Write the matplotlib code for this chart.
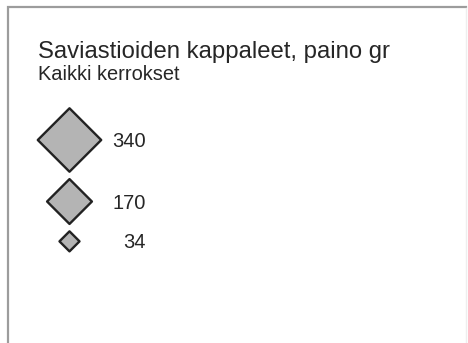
import numpy as np
import matplotlib
matplotlib.use("Agg")
import matplotlib.pyplot as plt

plt.rcParams['font.family'] = ['Liberation Sans', 'DejaVu Sans']

# Legend data: sherd weight classes (grams)
title = "Saviastioiden kappaleet, paino gr"
subtitle = "Kaikki kerrokset"
weights = [340, 170, 34]
labels = ["340", "170", "34"]

W, H, DPI = 468, 343, 100
fig = plt.figure(figsize=(W / DPI, H / DPI), dpi=DPI)
ax = fig.add_axes([0, 0, 1, 1])
ax.set_xlim(0, W)
ax.set_ylim(H, 0)
ax.axis("off")

# frame: top and left edges, faint right edge
frame = "#9c9c9c"
ax.plot([8, 8, 466], [H + 5, 7, 7], color=frame, lw=1.6,
        solid_joinstyle="miter", solid_capstyle="projecting")
ax.plot([466, 466], [8, H], color="#eeeeee", lw=1.0)

text_col = "#262626"
ax.text(38, 58, title, fontsize=17.2, color=text_col, va="baseline", ha="left")
ax.text(38, 80, subtitle, fontsize=14.4, color=text_col, va="baseline", ha="left")

# marker area proportional to weight
k = 3.07                       # points^2 per gram
edge_pt = 1.7
sizes = [k * w for w in weights]
px_per_pt = DPI / 72.0
extent = [np.sqrt(2) * np.sqrt(s) * px_per_pt + edge_pt * px_per_pt for s in sizes]

gap = 5.0
cx = 69.5
ys = [140.0]
for i in range(1, len(weights)):
    ys.append(ys[-1] + extent[i - 1] / 2 + gap + extent[i] / 2)

sc = ax.scatter([cx] * len(weights), ys, s=sizes, marker="D",
                facecolor="#b4b4b4", edgecolor="#222222", linewidths=edge_pt,
                zorder=3)
sc.set_joinstyle("round")

for y, lab in zip(ys, labels):
    ax.text(146, y + 1.5, lab, fontsize=14.5, color=text_col,
            ha="right", va="center")

fig.savefig("out.png", dpi=DPI)
